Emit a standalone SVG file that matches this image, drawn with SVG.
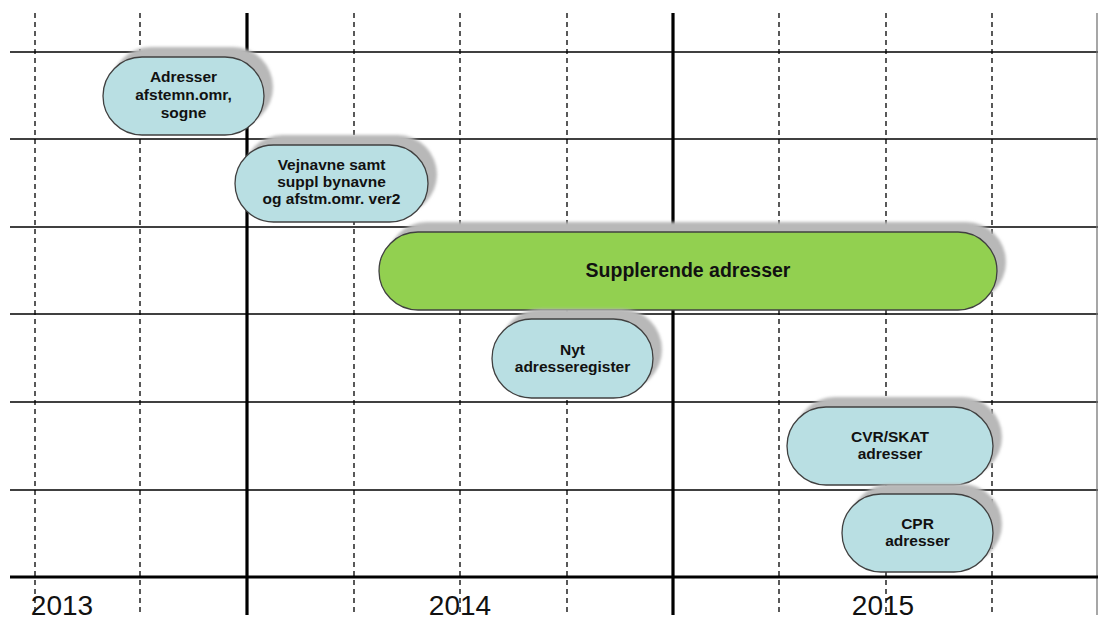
<svg xmlns="http://www.w3.org/2000/svg" width="1098" height="622" viewBox="0 0 1098 622">
<defs>
<filter id="sh" x="-20%" y="-40%" width="140%" height="180%"><feGaussianBlur stdDeviation="1.6"/></filter>
<style>
.hl{stroke:#000;stroke-width:1.3;fill:none}
.dl{stroke:#000;stroke-width:1.3;stroke-dasharray:5 4;fill:none}
.tk{stroke:#000;stroke-width:3.2;fill:none}
.shadow{fill:#b8b8b8;filter:url(#sh)}
.node{fill:#b9dfe3;stroke:#404040;stroke-width:1.3}
.green{fill:#92d050;stroke:#404040;stroke-width:1.3}
.lbl{font-family:"Liberation Sans",Arial,sans-serif;font-weight:bold;font-size:15.5px;fill:#111;text-anchor:middle}
.big{font-size:19.5px}
.year{font-family:"Liberation Sans",Arial,sans-serif;font-size:28px;fill:#111;text-anchor:middle}
</style>
</defs>
<g id="grid">
<line class="hl" x1="10" y1="52" x2="1098" y2="52"/>
<line class="hl" x1="10" y1="139" x2="1098" y2="139"/>
<line class="hl" x1="10" y1="227" x2="1098" y2="227"/>
<line class="hl" x1="10" y1="314" x2="1098" y2="314"/>
<line class="hl" x1="10" y1="402" x2="1098" y2="402"/>
<line class="hl" x1="10" y1="490" x2="1098" y2="490"/>
<line class="dl" x1="35" y1="13" x2="35" y2="615"/>
<line class="dl" x1="140" y1="13" x2="140" y2="615"/>
<line class="dl" x1="354" y1="13" x2="354" y2="615"/>
<line class="dl" x1="460" y1="13" x2="460" y2="615"/>
<line class="dl" x1="567" y1="13" x2="567" y2="615"/>
<line class="dl" x1="779" y1="13" x2="779" y2="615"/>
<line class="dl" x1="886" y1="13" x2="886" y2="615"/>
<line class="dl" x1="992" y1="13" x2="992" y2="615"/>
<line x1="1097" y1="13" x2="1097" y2="615" stroke="#777" stroke-width="1.3"/>
<line class="tk" x1="247" y1="13" x2="247" y2="615"/>
<line class="tk" x1="673" y1="13" x2="673" y2="615"/>
<line class="tk" x1="10" y1="577" x2="1098" y2="577"/>
<text class="year" x="62" y="615">2013</text>
<text class="year" x="460" y="615">2014</text>
<text class="year" x="883" y="615">2015</text>
</g>
<g id="connectors"></g>
<g id="n1">
<rect class="shadow" x="111" y="47" width="162" height="80" rx="40"/>
<rect class="node" x="103" y="57" width="161" height="78" rx="39"/>
<text class="lbl" x="183.5" y="82">Adresser</text>
<text class="lbl" x="183.5" y="100">afstemn.omr,</text>
<text class="lbl" x="183.5" y="118">sogne</text>
</g>
<g id="n2">
<rect class="shadow" x="243" y="135" width="194" height="79" rx="39.5"/>
<rect class="node" x="235" y="145" width="193" height="77" rx="38.5"/>
<text class="lbl" x="331.5" y="170">Vejnavne samt</text>
<text class="lbl" x="331.5" y="187">suppl bynavne</text>
<text class="lbl" x="331.5" y="204">og afstm.omr. ver2</text>
</g>
<g id="n3">
<rect class="shadow" x="387" y="222" width="619" height="80" rx="40"/>
<rect class="green" x="379" y="232" width="618" height="78" rx="39"/>
<text class="lbl big" x="688" y="277">Supplerende adresser</text>
</g>
<g id="n4">
<rect class="shadow" x="500" y="309" width="162" height="81" rx="40.5"/>
<rect class="node" x="492" y="319" width="161" height="79" rx="39.5"/>
<text class="lbl" x="572.5" y="355">Nyt</text>
<text class="lbl" x="572.5" y="372">adresseregister</text>
</g>
<g id="n5">
<rect class="shadow" x="795" y="397" width="207" height="80" rx="40"/>
<rect class="node" x="787" y="407" width="206" height="78" rx="39"/>
<text class="lbl" x="890" y="442">CVR/SKAT</text>
<text class="lbl" x="890" y="459">adresser</text>
</g>
<g id="n6">
<rect class="shadow" x="850" y="484" width="152" height="80" rx="40"/>
<rect class="node" x="842" y="494" width="151" height="78" rx="39"/>
<text class="lbl" x="917.5" y="529">CPR</text>
<text class="lbl" x="917.5" y="546">adresser</text>
</g>
</svg>
